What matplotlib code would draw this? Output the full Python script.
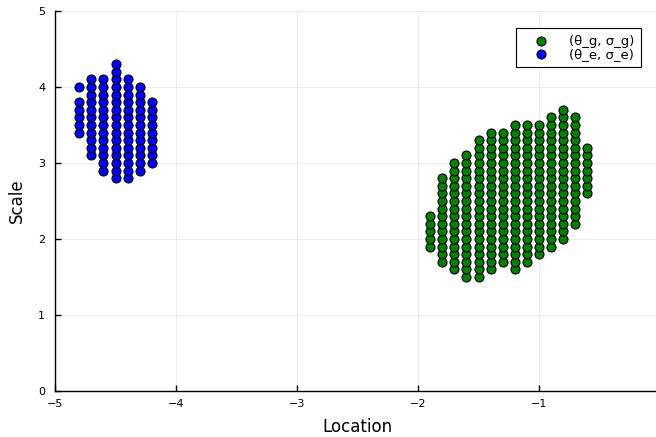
import numpy as np
import matplotlib
matplotlib.use("Agg")
import matplotlib.pyplot as plt

# Column segments: (location, scale_min, scale_max), grid step 0.1
green_segments = [
    (-1.9, 1.9, 2.3), (-1.8, 1.7, 2.8), (-1.7, 1.6, 3.0), (-1.6, 1.5, 3.1),
    (-1.5, 1.5, 3.3), (-1.4, 1.6, 3.4), (-1.3, 1.7, 3.4), (-1.2, 1.6, 3.5),
    (-1.1, 1.7, 3.5), (-1.0, 1.8, 3.5), (-0.9, 1.9, 3.6), (-0.8, 2.0, 3.7),
    (-0.7, 2.2, 3.6), (-0.6, 2.6, 3.2),
]
blue_segments = [
    (-4.8, 4.0, 4.0), (-4.8, 3.4, 3.8), (-4.7, 3.1, 4.1), (-4.6, 2.9, 4.1),
    (-4.5, 2.8, 4.3), (-4.4, 2.8, 4.1), (-4.3, 2.9, 4.0), (-4.2, 3.0, 3.8),
]
labels = ["(θ_g, σ_g)", "(θ_e, σ_e)"]
xticks = [-5, -4, -3, -2, -1, 0]
yticks = [0, 1, 2, 3, 4, 5]


def expand(segs):
    xs, ys = [], []
    for x, lo, hi in segs:
        n = int(round((hi - lo) / 0.1)) + 1
        for k in range(n):
            xs.append(x)
            ys.append(round(lo + 0.1 * k, 1))
    return np.array(xs), np.array(ys)


gx, gy = expand(green_segments)
bx, by = expand(blue_segments)

W, H = 656, 437
fig = plt.figure(figsize=(W / 100, H / 100), dpi=100)
ax = fig.add_axes([55 / W, (H - 391) / H, 605 / W, 380 / H])

ax.scatter(gx, gy, s=42, c="#007f00", edgecolors="black", linewidths=0.8,
           label=labels[0], zorder=3)
ax.scatter(bx, by, s=42, c="#0000ff", edgecolors="black", linewidths=0.8,
           label=labels[1], zorder=3)

ax.set_xlim(-5, 0)
ax.set_ylim(0, 5)
ax.set_xticks(xticks)
ax.set_yticks(yticks)
ax.grid(True, color="black", alpha=0.09, linewidth=0.6)
ax.set_axisbelow(True)
for s in ["top", "right"]:
    ax.spines[s].set_visible(False)
for s in ["left", "bottom"]:
    ax.spines[s].set_linewidth(1.0)
ax.tick_params(direction="in", length=4, width=1, labelsize=8)
ax.tick_params(axis="x", pad=6)
ax.tick_params(axis="y", pad=7)
ax.set_xlabel("Location", fontsize=12, labelpad=6)
ax.set_ylabel("Scale", fontsize=12, labelpad=9)

leg = ax.legend(loc="upper right", bbox_to_anchor=(641 / W, 1 - 28 / H),
                bbox_transform=fig.transFigure, borderaxespad=0,
                fontsize=9.5, fancybox=False, framealpha=1, edgecolor="black",
                handlelength=2.8, handletextpad=0.73, labelspacing=0.0,
                borderpad=0.5, markerscale=1.0, scatterpoints=1)
leg.get_frame().set_linewidth(0.8)

fig.savefig("out.png", dpi=100)
